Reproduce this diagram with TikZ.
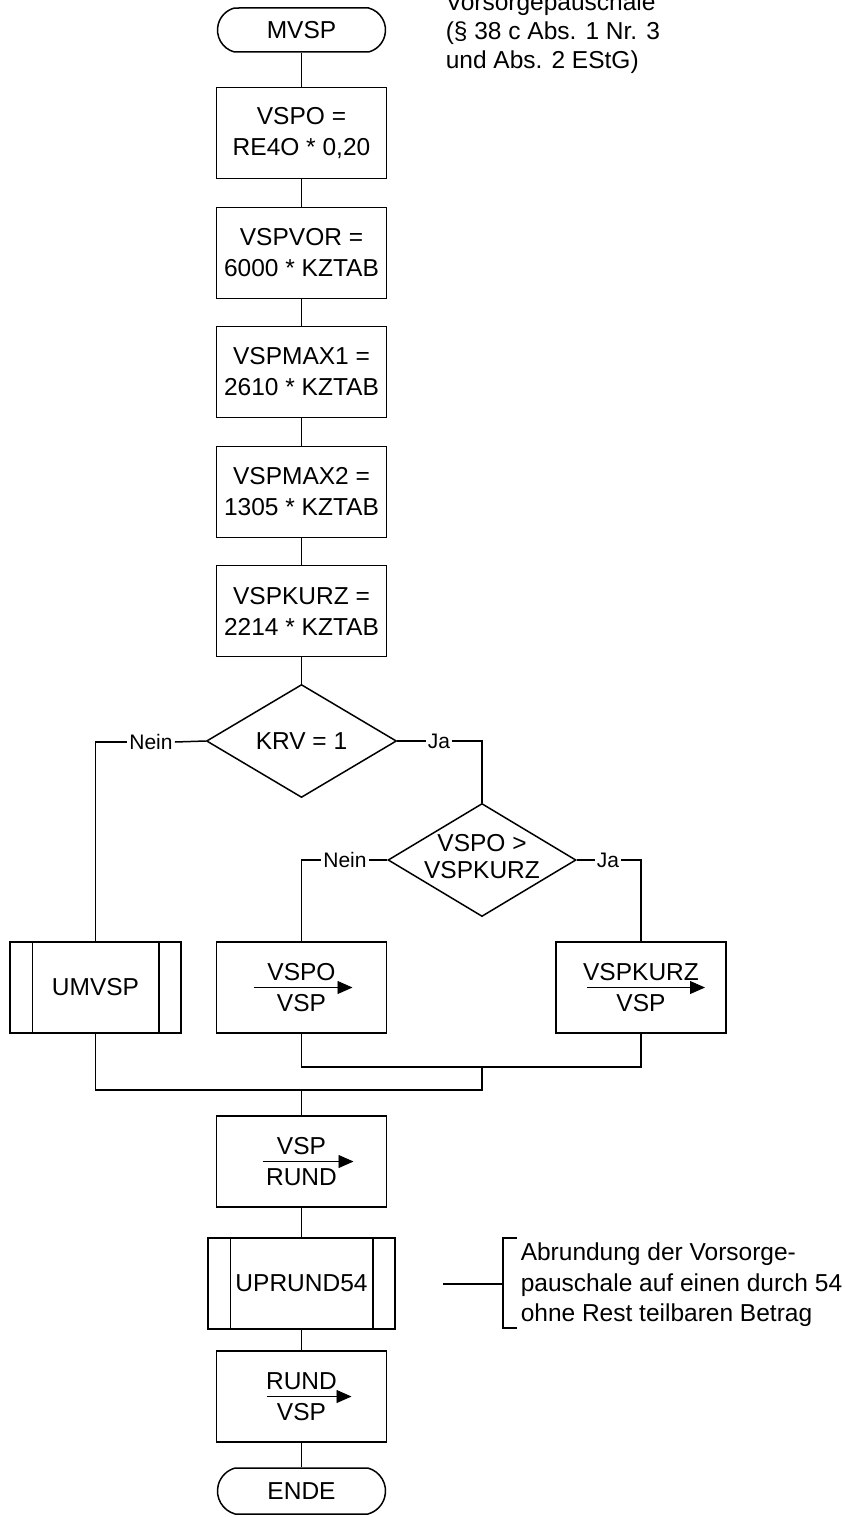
\documentclass[tikz,border=0pt]{standalone}
\usepackage{fontspec}
\setmainfont{Liberation Sans}
\usetikzlibrary{arrows.meta,shapes.geometric,shapes.misc}
\begin{document}
\begin{tikzpicture}[x=1pt,y=-1pt,
  line width=1.5pt,
  every node/.style={font=\fontsize{24.5}{31}\selectfont},
  term/.style={draw, rounded rectangle, rounded rectangle arc length=150, minimum width=168pt, minimum height=44pt, inner sep=0pt},
  proc/.style={draw, rectangle, minimum width=170pt, minimum height=91pt, inner sep=0pt, align=center},
  sub/.style={draw, rectangle, minimum height=91pt, inner sep=0pt, align=center},
  dec/.style={draw, diamond, minimum width=190pt, minimum height=113pt, inner sep=0pt},
  lbl/.style={font=\fontsize{21}{24}\selectfont, inner sep=1.5pt},
  asg/.style={line width=0.9pt, -{Triangle[length=15pt,width=13pt]}},
  note/.style={align=left, inner sep=0pt}
]
\useasboundingbox (0,0) rectangle (845,1517);

% main column
\node[term] (start) at (301.5,30) {MVSP};
\node[proc] (b1) at (301.5,133) {VSPO =\\RE4O * 0,20};
\node[proc] (b2) at (301.5,253) {VSPVOR =\\6000 * KZTAB};
\node[proc] (b3) at (301.5,372) {VSPMAX1 =\\2610 * KZTAB};
\node[proc] (b4) at (301.5,492) {VSPMAX2 =\\1305 * KZTAB};
\node[proc] (b5) at (301.5,611) {VSPKURZ =\\2214 * KZTAB};
\node[dec] (d1) at (301.5,741) {\makebox[0pt]{KRV = 1}};
\node[lbl] (n1) at (151,742) {Nein};
\node[lbl] (j1) at (439,741) {Ja};
\node[dec, minimum width=188pt] (d2) at (482,860) {\makebox[0pt]{\fontsize{24.5}{27}\selectfont\begin{tabular}{@{}c@{}}VSPO >\\VSPKURZ\end{tabular}}};
\node[lbl] (n2) at (345,860) {Nein};
\node[lbl] (j2) at (608,860) {Ja};

% row of three
\node[sub, minimum width=171pt] (umvsp) at (95.5,987.5) {UMVSP};
\draw ([xshift=23pt]umvsp.north west) -- ([xshift=23pt]umvsp.south west);
\draw ([xshift=-23pt]umvsp.north east) -- ([xshift=-23pt]umvsp.south east);
\node[proc] (a1) at (301.5,987.5) {VSPO\\VSP};
\draw[asg] ([xshift=-48pt]a1.center) -- ([xshift=51pt]a1.center);
\node[proc] (a2) at (641,987.5) {VSPKURZ\\VSP};
\draw[asg] ([xshift=-54pt]a2.center) -- ([xshift=64pt]a2.center);

\coordinate (m1) at (482,1067);
\coordinate (m2) at (301.5,1090);

\node[proc] (a3) at (301.5,1161.5) {VSP\\RUND};
\draw[asg] ([xshift=-39pt]a3.center) -- ([xshift=52pt]a3.center);
\node[sub, minimum width=187pt] (up) at (301.5,1283.5) {UPRUND54};
\draw ([xshift=23pt]up.north west) -- ([xshift=23pt]up.south west);
\draw ([xshift=-23pt]up.north east) -- ([xshift=-23pt]up.south east);
\node[proc] (a4) at (301.5,1396.5) {RUND\\VSP};
\draw[asg] ([xshift=-35pt]a4.center) -- ([xshift=50pt]a4.center);
\node[term, minimum height=46pt] (ende) at (301.5,1491) {ENDE};

% connectors
\draw (start.south) -- (b1.north);
\draw (b1.south) -- (b2.north);
\draw (b2.south) -- (b3.north);
\draw (b3.south) -- (b4.north);
\draw (b4.south) -- (b5.north);
\draw (b5.south) -- (d1.north);
\draw (d1.west) -- (n1.east);
\draw (n1.west) -| (umvsp.north);
\draw (d1.east) -- (j1.west);
\draw (j1.east) -| (d2.north);
\draw (d2.west) -- (n2.east);
\draw (n2.west) -| (a1.north);
\draw (d2.east) -- (j2.west);
\draw (j2.east) -| (a2.north);
\draw (a1.south) |- (m1);
\draw (a2.south) |- (m1);
\draw (umvsp.south) |- (m1 |- m2) -- (m1);
\draw (m2) -- (a3.north);
\draw (a3.south) -- (up.north);
\draw (up.south) -- (a4.north);
\draw (a4.south) -- (ende.north);

% annotations
\node[note, anchor=north west, font=\fontsize{24.5}{29}\selectfont] (note1) at (445,-8) {Vorsorgepauschale\\(§ 38 c Abs. 1 Nr. 3\\und Abs. 2 EStG)};
\node[note, anchor=west, font=\fontsize{24.5}{30.5}\selectfont] (note2) at (520,1285) {Abrundung der Vorsorge-\\pauschale auf einen durch 54\\ohne Rest teilbaren Betrag};
\coordinate (c1) at (443,1284);
\coordinate (c2) at (503,1284);
\draw (c1) -- (c2);
\draw (517,1238) -- (503,1238) -- (503,1328) -- (517,1328);
\end{tikzpicture}
\end{document}
